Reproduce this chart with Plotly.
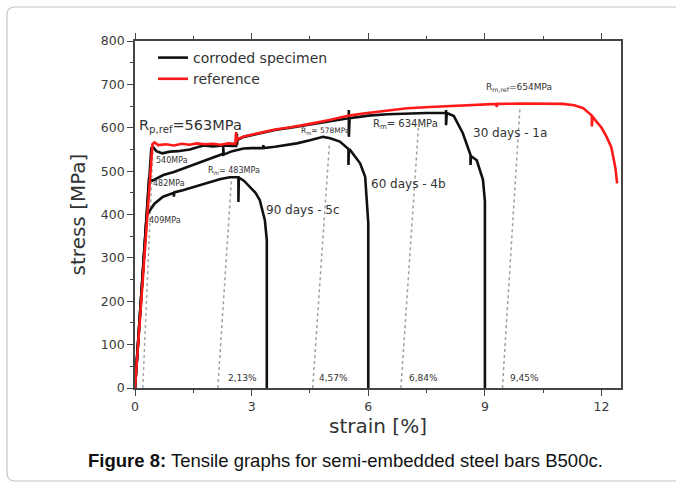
import plotly.graph_objects as go

# ---------------- data ----------------
ref_strain = [0, 0.45, 0.5, 0.6, 0.8, 1.0, 1.2, 1.4, 1.6, 1.8, 2.0, 2.2, 2.4, 2.58, 2.6, 2.61, 2.64, 2.66,
              2.8, 3.0, 3.3, 3.6, 4.0, 4.16, 4.5, 5.0, 5.5, 5.87, 6.5, 7.0, 7.59, 8.0, 8.5, 9.0, 9.3, 9.3,
              9.32, 10.0, 10.5, 11.0, 11.3, 11.53, 11.7, 11.75, 11.75, 11.77, 11.87, 12.0, 12.13, 12.25,
              12.3, 12.36, 12.4]
ref_stress = [0, 562, 566, 560, 562, 559, 563, 561, 564, 562, 563, 561, 564, 563, 590, 568, 576, 575,
              580, 584, 590, 596, 601, 603, 609, 618, 628, 633, 640, 645, 648, 650, 652, 654, 655, 648,
              655, 656, 656, 655, 652, 645, 632, 628, 603, 626, 614, 600, 579, 555,
              533, 505, 472]

d30_strain = [0, 0.42, 0.46, 0.55, 0.7, 0.9, 1.1, 1.41, 1.6, 1.76, 2.0, 2.27, 2.5, 2.6, 2.62, 2.62, 2.64,
              2.8, 3.0, 3.3, 3.6, 4.0, 4.5, 5.0, 5.3, 5.5, 5.5, 5.5, 5.52, 6.0, 6.5, 7.0, 7.5, 7.8, 8.0, 8.0,
              8.0, 8.02, 8.2, 8.43, 8.63, 8.63, 8.64, 8.79, 8.95, 9.0, 9.0]
d30_stress = [0, 553, 556, 546, 541, 545, 546, 550, 555, 559, 557, 559, 558, 558, 587, 560, 572,
              579, 583, 589, 595, 600, 607, 615, 619, 622, 641, 579, 622, 628, 631, 633, 634, 634, 634, 641,
              606, 634, 627, 588, 537, 514, 535, 525, 480, 430, 0]

d60_strain = [0, 0.36, 0.45, 0.6, 0.73, 1.0, 1.24, 1.5, 1.76, 2.0, 2.27, 2.27, 2.28, 2.5, 2.79, 3.0, 3.3,
              3.3, 3.31, 3.6, 4.0, 4.16, 4.5, 4.84, 5.02, 5.27, 5.49, 5.49, 5.5, 5.53, 5.79, 5.92, 5.97,
              6.0, 6.0]
d60_stress = [0, 481, 478, 485, 491, 498, 506, 514, 522, 530, 540, 556, 538, 546, 552, 553, 553,
              560, 553, 556, 561, 564, 571, 579, 576, 568, 551, 514, 549, 549, 518, 487, 433,
              380, 0]

d90_strain = [0, 0.3, 0.35, 0.5, 0.72, 1.0, 1.0, 1.01, 1.23, 1.6, 1.93, 2.2, 2.44, 2.6, 2.66, 2.66, 2.67,
              2.8, 2.96, 3.1, 3.21, 3.34, 3.39, 3.39]
d90_stress = [0, 396, 405, 425, 441, 450, 441, 451, 456, 466, 476, 482, 486, 487, 486, 429, 485,
              478, 464, 450, 433, 387, 341, 0]

# dotted unloading lines (plastic strain at Rm) and the 0.2 % offset guide
ag_labels = ["2,13%", "4,57%", "6,84%", "9,45%"]
ag_strain = [2.13, 4.57, 6.84, 9.45]
ag_top_strain = [2.48, 5.0, 7.29, 9.9]
ag_top_stress = [480, 562, 600, 645]
rp_guide_strain = [0.2, 0.46]
rp_guide_stress = [0, 545]

x_ticks = [0, 3, 6, 9, 12]
y_ticks = [0, 100, 200, 300, 400, 500, 600, 700, 800]

# ---------------- figure ----------------
W, H = 676, 483
ML, MR, MT, MB = 135, 55, 41, 95
PW, PH = W - ML - MR, H - MT - MB


def px(x):
    return (x - ML) / PW


def py(y):
    return (H - MB - y) / PH


FONT = "DejaVu Sans, Verdana, sans-serif"
INK = "#333333"

fig = go.Figure()

# dotted guides
fig.add_trace(go.Scatter(x=rp_guide_strain, y=rp_guide_stress, mode="lines",
                         line=dict(color="#a8a8a8", width=1.5, dash="dot"),
                         showlegend=False, hoverinfo="skip"))
for a, ts, tst in zip(ag_strain, ag_top_strain, ag_top_stress):
    fig.add_trace(go.Scatter(x=[a, ts], y=[0, tst], mode="lines",
                             line=dict(color="#a0a0a0", width=1.5, dash="dot"),
                             showlegend=False, hoverinfo="skip"))

# corroded specimens
for i, (xs, ys) in enumerate([(d30_strain, d30_stress), (d60_strain, d60_stress), (d90_strain, d90_stress)]):
    fig.add_trace(go.Scatter(x=xs, y=ys, mode="lines", name="corroded specimen",
                             legendgroup="corr", showlegend=(i == 0),
                             line=dict(color="#111111", width=2.6)))

# reference
fig.add_trace(go.Scatter(x=ref_strain, y=ref_stress, mode="lines", name="reference",
                         line=dict(color="#ff1a1a", width=2.6)))

annotations = []


def note(text, x, y, size, xanchor="left", color=INK):
    annotations.append(dict(text=text, x=x, y=y, xref="x", yref="y", showarrow=False,
                            xanchor=xanchor, yanchor="middle",
                            font=dict(family=FONT, size=size, color=color)))


note("R<sub>p,ref</sub>=563MPa", 0.05, 604, 14.5)
note("540MPa", 0.48, 525, 8)
note("482MPa", 0.40, 472, 8)
note("409MPa", 0.31, 387, 8)
note("R<sub>m</sub>= 483MPa", 1.82, 500, 8)
note("R<sub>m</sub>= 578MPa", 4.22, 593, 7.5)
note("R<sub>m</sub>= 634MPa", 6.07, 607, 10)
note("R<sub>m,ref</sub>=654MPa", 8.98, 693, 9)
note("30 days - 1a", 8.64, 587, 12)
note("60 days - 4b", 6.02, 470, 12)
note("90 days - 5c", 3.32, 410, 12)
for lab, xs in zip(ag_labels, [2.34, 4.69, 7.0, 9.6]):
    note(lab, xs, 22, 9)

# caption
annotations.append(dict(text="<b>Figure 8:</b> Tensile graphs for semi-embedded steel bars B500c.",
                        x=px(345), y=py(461), xref="paper", yref="paper", showarrow=False,
                        xanchor="center", yanchor="middle",
                        font=dict(family="Liberation Sans, Arial, sans-serif", size=18.5, color="#111111")))

# outer rounded frame (open to the right, as in the reference)
r = 8
frame = (f"M {px(700)},{py(7)} L {px(7 + r)},{py(7)} Q {px(7)},{py(7)} {px(7)},{py(7 + r)} "
         f"L {px(7)},{py(481 - r)} Q {px(7)},{py(481)} {px(7 + r)},{py(481)} L {px(700)},{py(481)}")

axis_common = dict(showgrid=False, zeroline=False, showline=True, linecolor="#444444", linewidth=1.6,
                   ticks="outside", ticklen=6, tickwidth=1.3, tickcolor="#444444",
                   tickfont=dict(family=FONT, size=12.5, color="#3a3a3a"))

fig.update_layout(
    width=W, height=H,
    margin=dict(l=ML, r=MR, t=MT, b=MB),
    paper_bgcolor="white", plot_bgcolor="white",
    showlegend=True,
    legend=dict(x=px(153), y=py(42), xanchor="left", yanchor="top",
                bgcolor="rgba(0,0,0,0)", borderwidth=0,
                font=dict(family=FONT, size=14, color=INK), tracegroupgap=0),
    xaxis=dict(range=[0, 12.5], tickvals=x_ticks, mirror="ticks",
               minor=dict(dtick=1.5, ticklen=3, ticks="outside", tickcolor="#444444"),
               title=dict(text="strain [%]", standoff=4,
                          font=dict(family=FONT, size=20, color=INK)),
               **axis_common),
    yaxis=dict(range=[0, 800], tickvals=y_ticks, mirror=True,
               minor=dict(dtick=50, ticklen=3, ticks="outside", tickcolor="#444444"),
               title=dict(text="stress [MPa]", standoff=10,
                          font=dict(family=FONT, size=20, color=INK)),
               **axis_common),
    annotations=annotations,
    shapes=[dict(type="path", path=frame, xref="paper", yref="paper",
                 line=dict(color="#c4c4c4", width=1.2), layer="below")],
)

fig.write_html("out.html")
